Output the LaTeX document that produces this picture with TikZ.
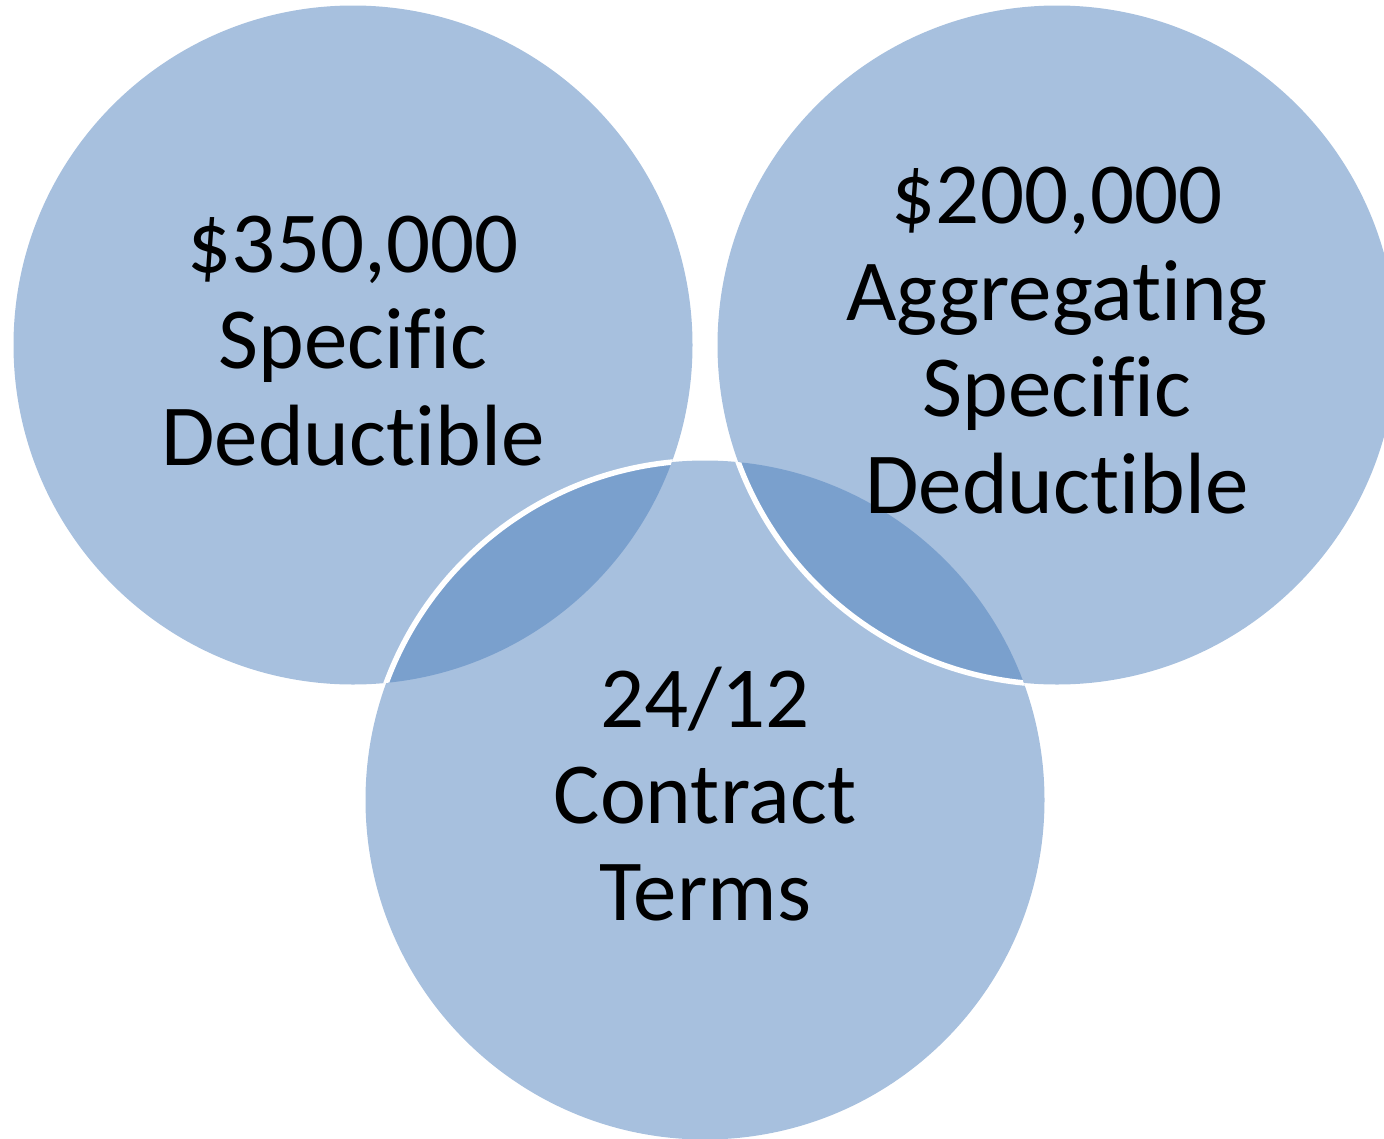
\documentclass[tikz,border=0pt]{standalone}
\usepackage{fontspec}
\setmainfont{Carlito}[Ligatures={NoCommon,NoRare,NoContextual}]
\begin{document}
\begin{tikzpicture}[x=1pt,y=-1pt,
  venn/.style={fill=vennblue,fill opacity=0.5},
  rim/.style={draw=white,line width=5.5pt},
  lbl/.style={align=center,font=\fontsize{87}{96.5}\selectfont,text=black,anchor=base,inner sep=0pt}]
\definecolor{vennblue}{HTML}{4F81BD}
\useasboundingbox (0,0) rectangle (1384,1138);
\clip (0,0) rectangle (1384,1138);
\coordinate (c1) at (353,345);
\coordinate (c2) at (1057,345);
\coordinate (c3) at (705,800);
\def\rr{339.5}
\fill[venn] (c1) circle[radius=\rr];
\fill[venn] (c3) circle[radius=\rr];
\fill[venn] (c2) circle[radius=\rr];
\begin{scope}
  \clip (c1) circle[radius=\rr];
  \draw[rim] (c3) circle[radius=\rr];
\end{scope}
\begin{scope}
  \clip (c3) circle[radius=\rr];
  \draw[rim] (c2) circle[radius=\rr];
\end{scope}
\node[lbl] (t1) at (353,465) {\$350,000\\Specific\\Deductible};
\node[lbl] (t2) at (1057,513) {\$200,000\\Aggregating\\Specific\\Deductible};
\node[lbl] (t3) at (705,920) {24/12\\Contract\\Terms};
\end{tikzpicture}
\end{document}
